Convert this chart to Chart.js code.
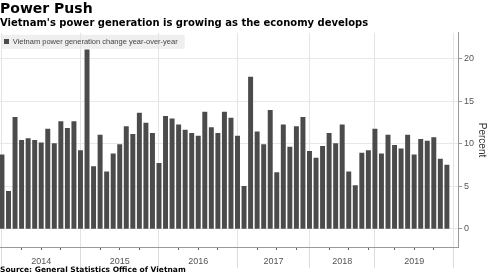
<!DOCTYPE html>
<html>
<head>
<meta charset="utf-8">
<script src="https://cdn.jsdelivr.net/npm/chart.js@4.4.1/dist/chart.umd.min.js"></script>
<style>
  html, body { margin: 0; padding: 0; background: #fff; }
  #wrap { position: relative; width: 490px; height: 275px; }
</style>
</head>
<body>
<div id="wrap"><canvas id="powerChart"></canvas></div>
<script>
// monthly year-over-year change, %
const values = [
    8.7, 4.4, 13.1, 10.4, 10.6, 10.4, 10.1, 11.7, 10.0, 12.6, 11.8, 12.6,
    9.2, 21.0, 7.3, 11.0, 6.7, 8.8, 9.9, 12.0, 11.1, 13.6, 12.4, 11.2,
    7.7, 13.2, 12.9, 12.2, 11.6, 11.2, 10.9, 13.7, 11.9, 11.2, 13.7, 13.0,
    10.9, 5.0, 17.8, 11.4, 9.9, 13.9, 6.6, 12.2, 9.6, 12.0, 13.1,
    9.1, 8.3, 9.7, 11.2, 10.0, 12.2, 6.7, 5.1, 8.9, 9.2,
    11.7, 8.8, 11.0, 9.8, 9.4, 11.0, 8.7, 10.5, 10.3, 10.7, 8.2, 7.5
];
const yearLabels = ['2014', '2015', '2016', '2017', '2018', '2019'];
// bar index where each year starts (last entry = end of 2019)
const yearStarts = [0, 12, 24, 36, 47, 57, 69];
const yTicks = [0, 5, 10, 15, 20];

const mids = yearLabels.map((y, i) => (yearStarts[i] + yearStarts[i + 1]) / 2);
// quarterly minor ticks inside each year
const quarters = [];
yearLabels.forEach((y, i) => {
    for (let q = yearStarts[i] + 3; q < yearStarts[i + 1]; q += 3) quarters.push(q);
});

// legend sits inside the plot, top-left, on a light grey panel
const legendInPlot = {
    id: 'legendInPlot',
    afterLayout(chart) {
        const l = chart.legend;
        const a = chart.chartArea;
        l.top = a.top + 2;
        l.height = 14;
        l.bottom = l.top + l.height;
        l.left = a.left + 1;
        l.adjustHitBoxes();
    },
    beforeDraw(chart) {
        const l = chart.legend;
        const hb = l.legendHitBoxes[0];
        const c = chart.ctx;
        c.save();
        c.fillStyle = '#efefef';
        c.fillRect(l.left, l.top, hb.left + hb.width + 3 - l.left, l.height);
        c.restore();
    }
};

const ctx = document.getElementById('powerChart').getContext('2d');

new Chart(ctx, {
    type: 'bar',
    data: {
        datasets: [{
            label: 'Vietnam power generation change year-over-year',
            data: values.map((v, i) => ({ x: i, y: v })),
            backgroundColor: '#4b4b4b',
            borderWidth: 0,
            barThickness: 4.3
        }]
    },
    options: {
        responsive: true,
        maintainAspectRatio: false,
        animation: false,
        layout: { padding: { left: 0, right: 0, top: 1, bottom: 0 } },
        scales: {
            x: {
                type: 'linear',
                offset: false,
                min: -0.3,
                max: 69.85,
                afterBuildTicks(scale) {
                    const vals = [...new Set(yearStarts.concat(mids, quarters))].sort((a, b) => a - b);
                    scale.ticks = vals.map(v => ({ value: v }));
                },
                grid: {
                    offset: false,
                    color: (c) => (c.tick && yearStarts.includes(c.tick.value)) ? '#e4e4e4' : 'rgba(0,0,0,0)',
                    tickColor: (c) => {
                        if (!c.tick) return 'rgba(0,0,0,0)';
                        if (yearStarts.includes(c.tick.value)) return '#dcdcdc';
                        if (quarters.includes(c.tick.value)) return '#666';
                        return 'rgba(0,0,0,0)';
                    },
                    tickBorderDash: (c) => (c.tick && quarters.includes(c.tick.value)) ? [2, 60] : [],
                    tickLength: 21
                },
                border: { display: true, color: '#999' },
                ticks: {
                    autoSkip: false,
                    maxRotation: 0,
                    padding: -12,
                    color: '#555',
                    font: { family: 'Liberation Sans', size: 9 },
                    callback: (v) => {
                        const k = mids.indexOf(v);
                        return k >= 0 ? yearLabels[k] : '';
                    }
                },
                title: {
                    display: true,
                    align: 'start',
                    text: 'Source: General Statistics Office of Vietnam',
                    color: '#000',
                    font: { family: 'DejaVu Sans', size: 7.5, weight: 'bold' },
                    padding: { top: 11, bottom: 0 }
                }
            },
            y: {
                position: 'right',
                min: -2.14,
                max: 23.0,
                afterBuildTicks(scale) {
                    scale.ticks = yTicks.map(v => ({ value: v }));
                },
                grid: { color: '#e8e8e8', tickColor: '#999', tickLength: 3 },
                border: { display: true, color: '#999' },
                ticks: {
                    padding: 2,
                    color: '#555',
                    font: { family: 'Liberation Sans', size: 9 }
                },
                title: {
                    display: true,
                    text: 'Percent',
                    color: '#333',
                    font: { family: 'Liberation Sans', size: 10 },
                    padding: { top: 2, bottom: 0 }
                }
            }
        },
        plugins: {
            title: {
                display: true,
                text: 'Power Push',
                align: 'start',
                color: '#000',
                font: { family: 'DejaVu Sans', size: 14, weight: 'bold' },
                padding: { top: 0, bottom: 0 }
            },
            subtitle: {
                display: true,
                text: "Vietnam's power generation is growing as the economy develops",
                align: 'start',
                color: '#000',
                font: { family: 'DejaVu Sans', size: 10, weight: 'bold' },
                padding: { top: 0, bottom: 3 }
            },
            legend: {
                position: 'chartArea',
                align: 'start',
                labels: {
                    boxWidth: 5,
                    boxHeight: 5,
                    padding: 3,
                    color: '#444',
                    font: { family: 'Liberation Sans', size: 7.5 }
                }
            },
            tooltip: { enabled: false }
        }
    },
    plugins: [legendInPlot]
});
</script>
</body>
</html>
